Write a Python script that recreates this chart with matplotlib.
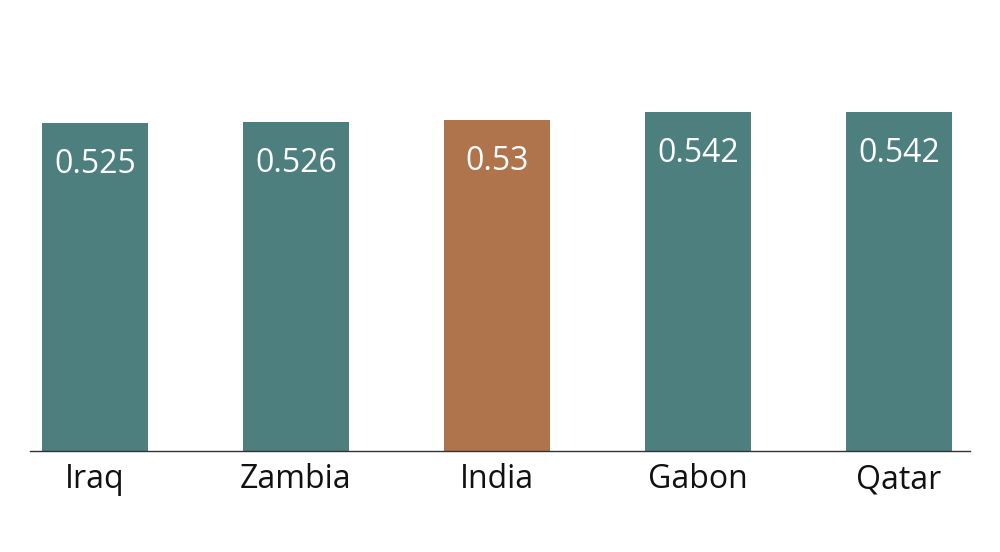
import matplotlib
matplotlib.use("Agg")
import matplotlib.pyplot as plt

countries = ["Iraq", "Zambia", "India", "Gabon", "Qatar"]
values = [0.525, 0.526, 0.53, 0.542, 0.542]
teal = "#4d7f7f"
highlight = "#b0744c"
colors = [highlight if c == "India" else teal for c in countries]

plt.rcParams['font.family'] = ['Open Sans', 'DejaVu Sans']

fig = plt.figure(figsize=(10, 5.52), dpi=100)
ax = fig.add_axes([0.03, 0.183, 0.94, 0.817])

x = range(len(countries))
bars = ax.bar(x, values, width=0.527, color=colors)

# value labels inside the bar tops
for b, v in zip(bars, values):
    ax.annotate(f"{v:g}", (b.get_x() + b.get_width() / 2, v),
                xytext=(0, -30), textcoords="offset points",
                ha="center", va="center", color="white", fontsize=23)

ax.set_xlim(-0.323, 4.353)
ax.set_ylim(0, 0.7216)
ax.set_xticks(list(x))
ax.set_xticklabels(countries, fontsize=23, color="#111111")
ax.tick_params(axis="x", length=0, pad=9)
ax.set_yticks([])
for s in ["top", "left", "right"]:
    ax.spines[s].set_visible(False)
ax.spines["bottom"].set_color("#333333")
ax.spines["bottom"].set_linewidth(1)

fig.savefig("out.png", dpi=100)
